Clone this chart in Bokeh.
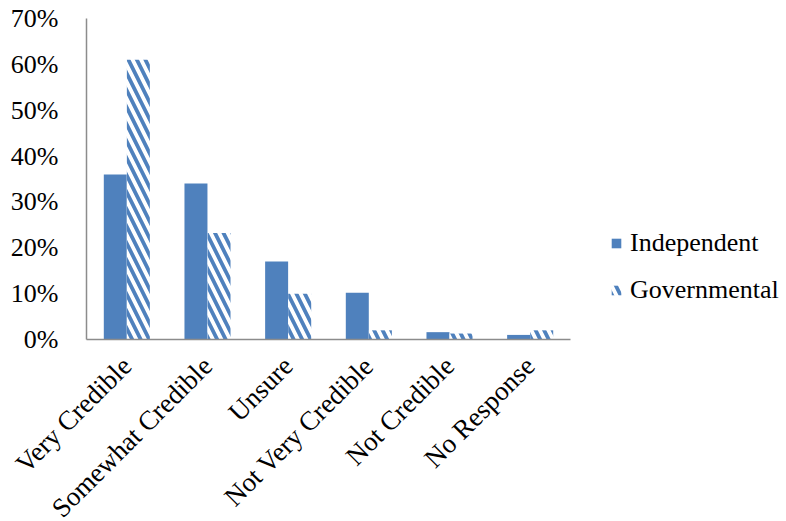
import math
from bokeh.plotting import figure
from bokeh.models import ColumnDataSource, Range1d, NumeralTickFormatter, FixedTicker, Legend, LegendItem
from bokeh.embed import file_html
from bokeh.resources import INLINE

categories = ["Very Credible", "Somewhat Credible", "Unsure", "Not Very Credible", "Not Credible", "No Response"]
independent = [0.36, 0.34, 0.17, 0.102, 0.016, 0.01]
governmental = [0.61, 0.232, 0.10, 0.02, 0.013, 0.02]
y_ticks = [0, 0.1, 0.2, 0.3, 0.4, 0.5, 0.6, 0.7]

BLUE = "#4F81BD"
FONT = "Liberation Serif"
FS = "26px"

centers = [i + 0.5 for i in range(len(categories))]
src = ColumnDataSource(dict(x_ind=[c - 0.143 for c in centers], x_gov=[c + 0.143 for c in centers],
                            ind=independent, gov=governmental))

n = len(categories)
y_top = 0.7
ppu_x = 484 / n
ppu_y = 321 / y_top
p = figure(width=786, height=521,
           x_range=Range1d(-86 / ppu_x, 700 / ppu_x),
           y_range=Range1d(-182 / ppu_y, y_top + 18 / ppu_y),
           output_backend="svg", toolbar_location=None,
           min_border_left=0, min_border_right=0, min_border_top=0, min_border_bottom=0)
p.outline_line_color = None
p.xgrid.visible = False
p.ygrid.visible = False

r1 = p.vbar(x="x_ind", top="ind", width=0.285, source=src, fill_color=BLUE, line_color=None)
r2 = p.vbar(x="x_gov", top="gov", width=0.285, source=src,
            fill_color="white", line_color=None, hatch_pattern="\\", hatch_color=BLUE,
            hatch_weight=3.8, hatch_scale=17)

for ax in (p.xaxis[0], p.yaxis[0]):
    ax.axis_line_color = "#8c8c8c"
    ax.axis_line_width = 1.5
    ax.major_tick_line_color = None
    ax.minor_tick_line_color = None
    ax.major_tick_out = 0
    ax.major_tick_in = 0
    ax.major_label_text_font = FONT
    ax.major_label_text_font_size = FS
    ax.major_label_text_color = "black"

ya = p.yaxis[0]
ya.ticker = FixedTicker(ticks=y_ticks)
ya.formatter = NumeralTickFormatter(format="0%")
ya.major_label_standoff = 28
ya.bounds = (0, y_top)
ya.fixed_location = 0

xa = p.xaxis[0]
xa.bounds = (0, n)
xa.fixed_location = 0
xa.ticker = FixedTicker(ticks=centers)
xa.major_label_overrides = {c: name for c, name in zip(centers, categories)}
xa.major_label_orientation = math.pi / 4
xa.major_label_standoff = 22
xa.major_label_text_font_size = "27px"

legend = Legend(items=[LegendItem(label="Independent", renderers=[r1]),
                       LegendItem(label="Governmental", renderers=[r2])],
                location=(610, 216), border_line_color=None, background_fill_alpha=0,
                label_text_font=FONT, label_text_font_size=FS, label_text_color="black",
                glyph_width=12, glyph_height=12, spacing=17, padding=0, margin=0, label_standoff=8)
p.add_layout(legend)

open("out.html", "w").write(file_html(p, INLINE))
